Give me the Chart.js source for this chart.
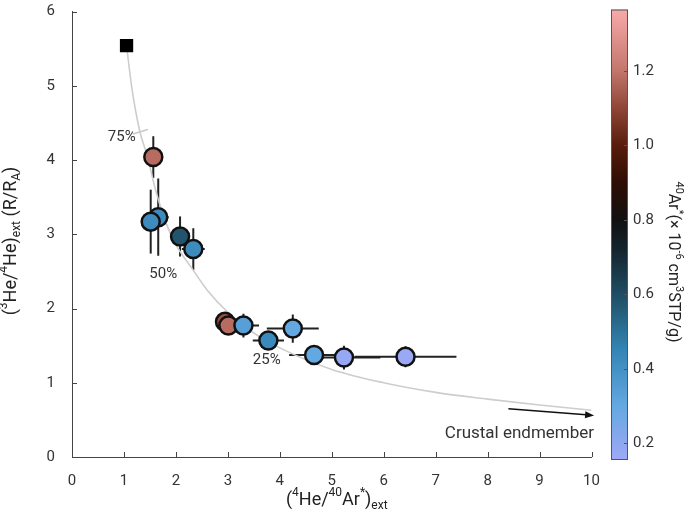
<!DOCTYPE html>
<html>
<head>
<meta charset="utf-8">
<script src="https://cdn.jsdelivr.net/npm/chart.js@4.4.0/dist/chart.umd.min.js"></script>
<style>
  html, body { margin: 0; padding: 0; background: #fff; }
</style>
</head>
<body>
<canvas id="chart" width="691" height="520"></canvas>
<script>
// He/Ar mixing plot with 40Ar* colorbar

const FONT = 'Roboto, "Liberation Sans", sans-serif';

// samples (drawn in this order, later ones on top)
const sampleX = [1.66, 1.515, 1.565, 2.08, 2.335, 2.945, 3.01, 3.30, 3.78, 4.25, 4.66, 5.235, 6.42];
const sampleY = [3.23, 3.17, 4.04, 2.97, 2.80, 1.82, 1.77, 1.77, 1.57, 1.73, 1.375, 1.34, 1.35];
const sampleXErr = [0.2, 0, 0, 0, 0.22, 0, 0, 0.3, 0.3, 0.5, 0.48, 0.7, 0.98];
const sampleYErr = [0.52, 0.43, 0.28, 0.27, 0.28, 0, 0, 0.16, 0.03, 0.19, 0, 0.16, 0.14];
const sampleAr = [0.42, 0.42, 1.18, 0.58, 0.42, 1.12, 1.18, 0.34, 0.43, 0.3, 0.3, 0.18, 0.17];

// mantle endmember
const endX = [1.05];
const endY = [5.54];

// mixing curve
const curveX = [1.05, 1.15, 1.3, 1.45, 1.6, 1.8, 2.0, 2.3, 2.6, 3.0, 3.5, 4.0, 5.0, 6.0, 7.0, 8.0, 9.0, 10.0];
const curveY = [5.54, 4.98, 4.40, 4.05, 3.62, 3.17, 2.86, 2.55, 2.25, 1.95, 1.67, 1.47, 1.18, 1.0, 0.87, 0.78, 0.70, 0.63];

// 75% mark on the curve
const markX = [1.17, 1.46];
const markY = [4.35, 4.41];

// crustal endmember arrow
const arrowX = [8.4, 10.05];
const arrowY = [0.65, 0.56];

// labels on the plot
const pctLabels = ["75%", "50%", "25%"];
const pctX = [0.957, 1.757, 3.748];
const pctY = [4.30, 2.457, 1.309];

const xTicks = [0, 1, 2, 3, 4, 5, 6, 7, 8, 9, 10];
const yTicks = [0, 1, 2, 3, 4, 5, 6];
const cbTicks = [0.2, 0.4, 0.6, 0.8, 1.0, 1.2];
const cbMin = 0.155;
const cbMax = 1.365;

// berlin-like colormap, stops in 40Ar* units
const cmap = [
  [0.155, [160, 168, 247]],
  [0.3, [100, 168, 226]],
  [0.45, [52, 133, 181]],
  [0.6, [31, 77, 99]],
  [0.72, [20, 36, 46]],
  [0.8, [17, 17, 17]],
  [0.9, [46, 13, 3]],
  [1.0, [88, 29, 12]],
  [1.1, [143, 70, 54]],
  [1.2, [194, 118, 108]],
  [1.365, [248, 170, 170]],
];

const colorFor = (v) => {
  if (v <= cmap[0][0]) return `rgb(${cmap[0][1].join(",")})`;
  for (let i = 1; i < cmap.length; i++) {
    if (v <= cmap[i][0]) {
      const [v0, c0] = cmap[i - 1];
      const [v1, c1] = cmap[i];
      const t = (v - v0) / (v1 - v0);
      const c = c0.map((a, k) => Math.round(a + (c1[k] - a) * t));
      return `rgb(${c.join(",")})`;
    }
  }
  return `rgb(${cmap[cmap.length - 1][1].join(",")})`;
};

// text with super/subscripts: parts = [[text, kind], ...]
const partFont = (kind, size) =>
  `${kind ? Math.round(size * 0.66) : size}px ${FONT}`;

const richWidth = (ctx, parts, size) => {
  let w = 0;
  parts.forEach(([t, kind]) => {
    ctx.font = partFont(kind, size);
    w += ctx.measureText(t).width;
  });
  return w;
};

const drawRich = (ctx, parts, cx, cy, size) => {
  let x = cx - richWidth(ctx, parts, size) / 2;
  ctx.textAlign = "left";
  ctx.textBaseline = "middle";
  parts.forEach(([t, kind]) => {
    ctx.font = partFont(kind, size);
    let dy = 0;
    if (kind === "sup") dy = -size * 0.38;
    if (kind === "sub") dy = size * 0.36;
    ctx.fillText(t, x, cy + dy);
    x += ctx.measureText(t).width;
  });
};

const xTitle = [["(", ""], ["4", "sup"], ["He/", ""], ["40", "sup"], ["Ar", ""], ["*", "sup"], [")", ""], ["ext", "sub"]];
const yTitle = [["(", ""], ["3", "sup"], ["He/", ""], ["4", "sup"], ["He)", ""], ["ext", "sub"], [" (R/R", ""], ["A", "sub"], [")", ""]];
const cbTitle = [["40", "sup"], ["Ar", ""], ["*", "sup"], ["(\u00d7 10", ""], ["-6", "sup"], [" cm", ""], ["3", "sup"], ["STP/g)", ""]];

const decor = {
  id: "decor",
  beforeDatasetsDraw(chart) {
    const { ctx, scales: { x, y } } = chart;
    ctx.save();
    ctx.strokeStyle = "#222";
    ctx.lineWidth = 2;
    sampleX.forEach((vx, i) => {
      const px = x.getPixelForValue(vx);
      const py = y.getPixelForValue(sampleY[i]);
      ctx.beginPath();
      if (sampleXErr[i] > 0) {
        ctx.moveTo(x.getPixelForValue(vx - sampleXErr[i]), py);
        ctx.lineTo(x.getPixelForValue(vx + sampleXErr[i]), py);
      }
      if (sampleYErr[i] > 0) {
        ctx.moveTo(px, y.getPixelForValue(sampleY[i] - sampleYErr[i]));
        ctx.lineTo(px, y.getPixelForValue(sampleY[i] + sampleYErr[i]));
      }
      ctx.stroke();
    });
    ctx.restore();
  },
  afterDraw(chart) {
    const { ctx, chartArea: a, scales: { x, y } } = chart;
    ctx.save();

    // inward tick marks
    ctx.strokeStyle = "#444";
    ctx.lineWidth = 1;
    ctx.beginPath();
    xTicks.forEach((v) => {
      const px = Math.round(x.getPixelForValue(v)) + 0.5;
      ctx.moveTo(px, a.bottom);
      ctx.lineTo(px, a.bottom - 5);
    });
    yTicks.forEach((v) => {
      const py = Math.round(y.getPixelForValue(v)) + 0.5;
      ctx.moveTo(a.left, py);
      ctx.lineTo(a.left + 5, py);
    });
    ctx.stroke();

    // arrow to the crustal endmember
    const ax0 = x.getPixelForValue(arrowX[0]);
    const ay0 = y.getPixelForValue(arrowY[0]);
    const ax1 = x.getPixelForValue(arrowX[1]);
    const ay1 = y.getPixelForValue(arrowY[1]);
    const ang = Math.atan2(ay1 - ay0, ax1 - ax0);
    ctx.strokeStyle = "#111";
    ctx.fillStyle = "#111";
    ctx.lineWidth = 1.5;
    ctx.beginPath();
    ctx.moveTo(ax0, ay0);
    ctx.lineTo(ax1 - 8 * Math.cos(ang), ay1 - 8 * Math.sin(ang));
    ctx.stroke();
    ctx.beginPath();
    ctx.moveTo(ax1, ay1);
    ctx.lineTo(ax1 - 9 * Math.cos(ang) + 3.5 * Math.sin(ang), ay1 - 9 * Math.sin(ang) - 3.5 * Math.cos(ang));
    ctx.lineTo(ax1 - 9 * Math.cos(ang) - 3.5 * Math.sin(ang), ay1 - 9 * Math.sin(ang) + 3.5 * Math.cos(ang));
    ctx.closePath();
    ctx.fill();

    // text on the plot
    ctx.fillStyle = "#333";
    ctx.font = `15px ${FONT}`;
    ctx.textAlign = "center";
    ctx.textBaseline = "middle";
    pctLabels.forEach((t, i) => {
      ctx.fillText(t, x.getPixelForValue(pctX[i]), y.getPixelForValue(pctY[i]));
    });
    ctx.textAlign = "right";
    ctx.font = `17px ${FONT}`;
    ctx.fillText("Crustal endmember", x.getPixelForValue(10.05), y.getPixelForValue(0.318));

    // axis titles
    ctx.fillStyle = "#222";
    drawRich(ctx, xTitle, (a.left + a.right) / 2 + 5, 500, 18);
    ctx.save();
    ctx.translate(11, 241);
    ctx.rotate(-Math.PI / 2);
    drawRich(ctx, yTitle, 0, 0, 18);
    ctx.restore();

    // colorbar
    const cbL = 611, cbW = 17;
    const cbTop = a.top - 2, cbBot = a.bottom + 3;
    const cbPix = (v) => cbBot - ((v - cbMin) / (cbMax - cbMin)) * (cbBot - cbTop);
    const grad = ctx.createLinearGradient(0, cbBot, 0, cbTop);
    cmap.forEach(([v, c]) => {
      grad.addColorStop((v - cbMin) / (cbMax - cbMin), `rgb(${c.join(",")})`);
    });
    ctx.fillStyle = grad;
    ctx.fillRect(cbL, cbTop, cbW, cbBot - cbTop);
    ctx.strokeStyle = "#555";
    ctx.lineWidth = 1;
    ctx.strokeRect(cbL + 0.5, cbTop + 0.5, cbW - 1, cbBot - cbTop - 1);
    ctx.beginPath();
    cbTicks.forEach((v) => {
      const py = Math.round(cbPix(v)) + 0.5;
      ctx.moveTo(cbL + cbW, py);
      ctx.lineTo(cbL + cbW - 4, py);
    });
    ctx.stroke();
    ctx.fillStyle = "#333";
    ctx.font = `15px ${FONT}`;
    ctx.textAlign = "left";
    ctx.textBaseline = "middle";
    cbTicks.forEach((v) => {
      ctx.fillText(v.toFixed(1), cbL + cbW + 5, cbPix(v));
    });
    ctx.fillStyle = "#222";
    ctx.save();
    ctx.translate(673, 262);
    ctx.rotate(Math.PI / 2);
    drawRich(ctx, cbTitle, 0, 0, 16);
    ctx.restore();

    ctx.restore();
  },
};

const ctx = document.getElementById("chart").getContext("2d");

const chart = new Chart(ctx, {
  type: "scatter",
  data: {
    datasets: [
      {
        label: "Mantle endmember",
        data: endX.map((v, i) => ({ x: v, y: endY[i] })),
        pointStyle: "rect",
        pointRadius: 9.4,
        backgroundColor: "#000",
        borderColor: "#000",
        borderWidth: 0,
        order: 0,
      },
      {
        label: "Samples",
        data: sampleX.map((v, i) => ({ x: v, y: sampleY[i] })),
        pointRadius: 9,
        backgroundColor: sampleAr.map(colorFor),
        borderColor: "#111",
        borderWidth: 2.5,
        order: 1,
      },
      {
        label: "75% mark",
        type: "line",
        data: markX.map((v, i) => ({ x: v, y: markY[i] })),
        borderColor: "#c8c8c8",
        borderWidth: 1.5,
        pointRadius: 0,
        order: 2,
      },
      {
        label: "Mixing curve",
        type: "line",
        data: curveX.map((v, i) => ({ x: v, y: curveY[i] })),
        borderColor: "#cdcdcd",
        borderWidth: 1.6,
        pointRadius: 0,
        cubicInterpolationMode: "monotone",
        order: 3,
      },
    ],
  },
  options: {
    responsive: false,
    animation: false,
    devicePixelRatio: 1,
    layout: { padding: { left: 0, top: 5, right: 99.5, bottom: 0 } },
    plugins: {
      legend: { display: false },
      tooltip: { enabled: false },
    },
    scales: {
      x: {
        type: "linear",
        min: 0,
        max: 10,
        afterFit(s) {
          s.height = 63;
          s.paddingLeft = 0;
          s.paddingRight = 0;
        },
        afterBuildTicks(s) {
          s.ticks = xTicks.map((v) => ({ value: v }));
        },
        ticks: {
          color: "#333",
          font: { size: 15, family: FONT },
          padding: 7,
          maxRotation: 0,
        },
        grid: { display: false },
        border: { color: "#444", width: 1 },
      },
      y: {
        type: "linear",
        min: 0,
        max: 6,
        afterFit(s) {
          s.width = 72;
          s.paddingTop = 0;
          s.paddingBottom = 0;
        },
        afterBuildTicks(s) {
          s.ticks = yTicks.map((v) => ({ value: v }));
        },
        ticks: {
          color: "#333",
          font: { size: 15, family: FONT },
          padding: 9,
        },
        grid: { display: false },
        border: { color: "#444", width: 1 },
      },
    },
  },
  plugins: [decor],
});
</script>
</body>
</html>
